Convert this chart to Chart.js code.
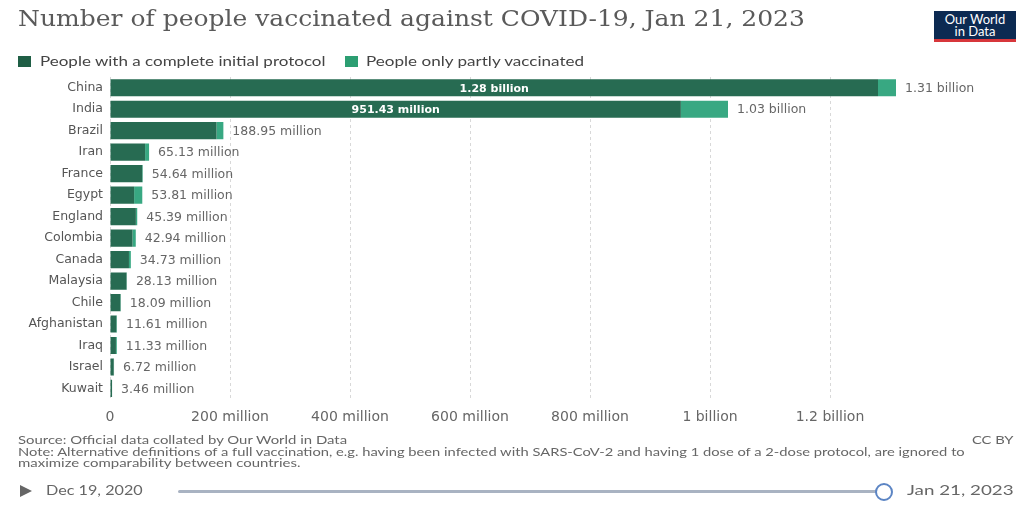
<!DOCTYPE html>
<html>
<head>
<meta charset="utf-8">
<script src="https://cdn.jsdelivr.net/npm/chart.js@4"></script>
<style>
  body { margin: 0; width: 1032px; height: 506px; background: #fff; font-family: Lato, sans-serif; overflow: hidden; }
  #wrap { position: absolute; left: 0; top: 0; width: 1032px; height: 506px; }
  .fit { position: absolute; white-space: nowrap; transform-origin: 0 0; }
  .title { left: 18px; top: 5px; font-family: 'DejaVu Serif', serif; font-size: 23px; color: #5a5a5a; }
  .logo { position: absolute; left: 934px; top: 11px; width: 82px; height: 31px; background: #0c2a52; color: #fff; font-size: 13px; line-height: 12px; text-align: center; padding-top: 2px; box-sizing: border-box; border-bottom: 3px solid #d7363b; }
  .sq { position: absolute; width: 13px; height: 11px; top: 56px; }
  .leg { top: 53px; font-size: 13px; color: #444; }
  .foot { font-size: 10.5px; color: #666; }
  .play { position: absolute; left: 20px; top: 485px; width: 0; height: 0; border-left: 12px solid #666; border-top: 6px solid transparent; border-bottom: 6px solid transparent; }
  .date { top: 481px; font-size: 14px; color: #666; }
  .track { position: absolute; left: 178px; top: 490px; width: 700px; height: 3px; background: #a9b3c2; border-radius: 2px; }
  .knob { position: absolute; left: 875px; top: 483px; width: 14px; height: 14px; border: 2px solid #5c85c4; border-radius: 50%; background: #fff; }
</style>
</head>
<body>
<div id="wrap">
  <canvas id="chart" width="1032" height="506"></canvas>
</div>
<div class="fit title" data-w="787">Number of people vaccinated against COVID-19, Jan 21, 2023</div>
<div class="logo">Our World<br>in Data</div>
<div class="sq" style="left:18px;background:#1f5e45"></div>
<div class="fit leg" style="left:40px" data-w="285">People with a complete initial protocol</div>
<div class="sq" style="left:345px;background:#2c9e72"></div>
<div class="fit leg" style="left:366px" data-w="218">People only partly vaccinated</div>
<div class="fit foot" style="left:18px;top:434px" data-w="329">Source: Official data collated by Our World in Data</div>
<div class="fit foot" style="left:18px;top:446px" data-w="947">Note: Alternative definitions of a full vaccination, e.g. having been infected with SARS-CoV-2 and having 1 dose of a 2-dose protocol, are ignored to</div>
<div class="fit foot" style="left:18px;top:457px" data-w="282">maximize comparability between countries.</div>
<div class="fit foot" style="left:972px;top:434px" data-w="42">CC BY</div>
<div class="play"></div>
<div class="fit date" style="left:46px" data-w="97">Dec 19, 2020</div>
<div class="track"></div>
<div class="knob"></div>
<div class="fit date" style="left:907px" data-w="106">Jan 21, 2023</div>
<script>
// values in millions of people
var countries = ['China', 'India', 'Brazil', 'Iran', 'France', 'Egypt', 'England', 'Colombia', 'Canada', 'Malaysia', 'Chile', 'Afghanistan', 'Iraq', 'Israel', 'Kuwait'];
var totalVaccinated = [1310, 1030, 188.95, 65.13, 54.64, 53.81, 45.39, 42.94, 34.73, 28.13, 18.09, 11.61, 11.33, 6.72, 3.46];
var completeProtocol = [1280, 951.43, 177.5, 58.5, 53.7, 40.2, 43.1, 37.5, 31.6, 27.5, 17.4, 10.6, 9.9, 6.2, 3.4];
var totalLabels = ['1.31 billion', '1.03 billion', '188.95 million', '65.13 million', '54.64 million', '53.81 million', '45.39 million', '42.94 million', '34.73 million', '28.13 million', '18.09 million', '11.61 million', '11.33 million', '6.72 million', '3.46 million'];
var insideLabels = ['1.28 billion', '951.43 million'];
var xTicks = { 0: '0', 200: '200 million', 400: '400 million', 600: '600 million', 800: '800 million', 1000: '1 billion', 1200: '1.2 billion' };

var partlyVaccinated = totalVaccinated.map(function (t, i) { return t - completeProtocol[i]; });

// stretch the html texts to the widths they have in the picture
document.querySelectorAll('.fit').forEach(function (el) {
    var w = +el.getAttribute('data-w');
    el.style.transform = 'scaleX(' + (w / el.offsetWidth) + ')';
});

var barLabels = {
    id: 'barLabels',
    afterDatasetsDraw: function (chart) {
        var ctx = chart.ctx;
        var full = chart.getDatasetMeta(0).data;
        var part = chart.getDatasetMeta(1).data;
        ctx.save();
        ctx.textBaseline = 'middle';
        ctx.font = '12.5px "DejaVu Sans"';
        ctx.fillStyle = '#666';
        ctx.textAlign = 'left';
        part.forEach(function (bar, i) {
            ctx.fillText(totalLabels[i], bar.x + 9, bar.y + 1);
        });
        ctx.font = 'bold 11px "DejaVu Sans"';
        ctx.fillStyle = '#fff';
        ctx.textAlign = 'center';
        insideLabels.forEach(function (txt, i) {
            var b = full[i];
            ctx.fillText(txt, (b.base + b.x) / 2, b.y + 1);
        });
        ctx.restore();
    }
};

new Chart(document.getElementById('chart'), {
    type: 'bar',
    data: {
        labels: countries,
        datasets: [{
            label: 'People with a complete initial protocol',
            data: completeProtocol,
            backgroundColor: '#276b52',
            barPercentage: 0.8,
            categoryPercentage: 1
        }, {
            label: 'People only partly vaccinated',
            data: partlyVaccinated,
            backgroundColor: '#38a882',
            barPercentage: 0.8,
            categoryPercentage: 1
        }]
    },
    options: {
        responsive: false,
        animation: false,
        indexAxis: 'y',
        layout: {
            padding: { top: 77, bottom: 70, right: 22, left: 0 }
        },
        scales: {
            y: {
                stacked: true,
                grid: { display: false, drawTicks: false },
                border: { display: false },
                ticks: {
                    color: '#555',
                    padding: 7,
                    font: { family: 'DejaVu Sans', size: 12.5 }
                },
                afterFit: function (scale) { scale.width = 110; }
            },
            x: {
                stacked: true,
                min: 0,
                max: 1500,
                grid: {
                    drawTicks: false,
                    color: function (c) {
                        if (c.tick && c.tick.value > 1200) return 'rgba(0,0,0,0)';
                        return '#d8d8d8';
                    }
                },
                border: { display: false, dash: [3, 3] },
                ticks: {
                    stepSize: 200,
                    padding: 10,
                    color: '#666',
                    font: { family: 'DejaVu Sans', size: 14 },
                    callback: function (v) { return xTicks[v] !== undefined ? xTicks[v] : ''; }
                }
            }
        },
        plugins: {
            legend: { display: false },
            tooltip: { enabled: false }
        }
    },
    plugins: [barLabels]
});
</script>
</body>
</html>
